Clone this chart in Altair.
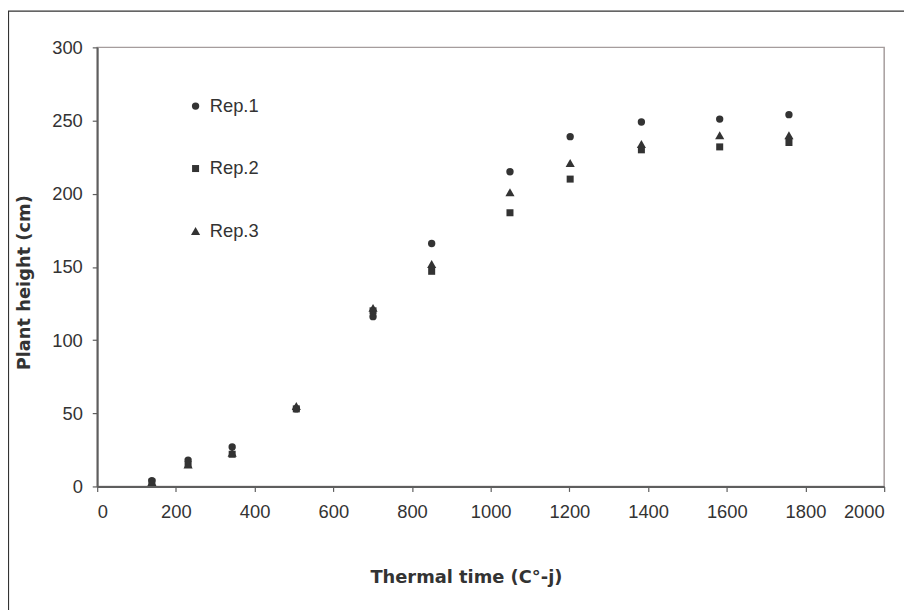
import altair as alt
import pandas as pd

thermal_time = [139, 231, 343, 506, 701, 850, 1049, 1202, 1383, 1582, 1758]
rep1 = [4, 18, 27, 53, 116, 166, 215, 239, 249, 251, 254]
rep2 = [3, 15, 22, 53, 120, 147, 187, 210, 230, 232, 235]
rep3 = [3, 15, 23, 55, 122, 152, 201, 221, 234, 240, 240]
series_names = ["Rep.1", "Rep.2", "Rep.3"]
x_ticks = list(range(0, 2001, 200))
y_ticks = list(range(0, 301, 50))

rows = []
for name, vals in zip(series_names, [rep1, rep2, rep3]):
    for t, v in zip(thermal_time, vals):
        rows.append({"tt": t, "h": v, "rep": name})
df = pd.DataFrame(rows)

FONT = "Liberation Sans"
TFONT = "DejaVu Sans"

legend = alt.Legend(title=None, orient="none", legendX=90, legendY=50,
                    rowPadding=44, labelFontSize=18.5, labelFont=FONT,
                    labelColor="#333333", symbolFillColor="#333333",
                    symbolStrokeColor="#333333", labelOffset=5, padding=0)

points = alt.Chart(df).mark_point(filled=True, opacity=1, color="#333333").encode(
    x=alt.X("tt:Q", scale=alt.Scale(domain=[0, 2000], nice=False),
            axis=alt.Axis(values=x_ticks, format="d", title="Thermal time (C°-j)", grid=False,
                          tickSize=5, labelPadding=11, titlePadding=48,
                          titleX=372)),
    y=alt.Y("h:Q", scale=alt.Scale(domain=[0, 300], nice=False),
            axis=alt.Axis(values=y_ticks, title="Plant height (cm)", grid=False,
                          tickSize=5, labelPadding=10,
                          titleX=-73, titleY=237, titleAlign="center",
                          titleBaseline="middle", titleAngle=270)),
    shape=alt.Shape("rep:N",
                    scale=alt.Scale(domain=series_names, range=["circle", "square", "triangle-up"]),
                    legend=legend),
    size=alt.Size("rep:N",
                  scale=alt.Scale(type="ordinal", domain=series_names, range=[55, 50, 85]),
                  legend=legend),
)

frame = alt.Chart(pd.DataFrame({"k": [0]})).mark_rect(
    fill=None, stroke="#333333", strokeWidth=1.2
).encode(
    x=alt.value(-89.5), x2=alt.value(1000), y=alt.value(-36.5), y2=alt.value(700)
)

chart = alt.layer(frame, points).properties(
    width=794, height=443,
    autosize=alt.AutoSizeParams(type="none"),
    padding={"left": 90, "top": 37, "right": 20, "bottom": 130},
).configure_view(
    stroke="#a59d9d", strokeWidth=1.5
).configure_axis(
    domainColor="#5e5e5e", domainWidth=2, tickColor="#5e5e5e", tickWidth=1.2,
    labelFont=FONT, labelFontSize=18.5, labelColor="#333333",
    titleFont=TFONT, titleFontSize=18, titleFontWeight="bold", titleColor="#333333",
)

chart.save("out.html", embed_options={"renderer": "svg", "actions": False})
